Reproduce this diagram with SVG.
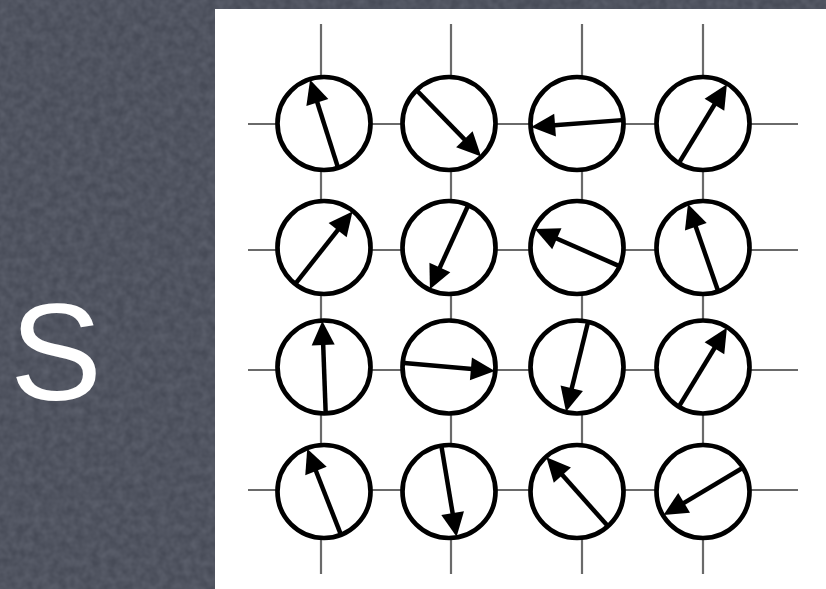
<svg xmlns="http://www.w3.org/2000/svg" width="826" height="589" viewBox="0 0 826 589">
<defs>
<filter id="tex" x="0" y="0" width="100%" height="100%">
<feTurbulence type="fractalNoise" baseFrequency="0.12" numOctaves="2" seed="3" result="n"/>
<feColorMatrix in="n" type="matrix" values="0 0 0 0 0.36  0 0 0 0 0.38  0 0 0 0 0.45  0 0 0 0.3 -0.05"/>
</filter>
<g id="arrow">
<line x1="-45" y1="0" x2="26" y2="0" class="shaft"/>
<polygon points="22,-11.5 46,0 22,11.5" class="head"/>
</g>
</defs>
<style>
.grid line{stroke:#6a6a6a;stroke-width:2.2}
.ring{fill:#fff;stroke:#000;stroke-width:4.7}
.shaft{stroke:#000;stroke-width:4.5}
.head{fill:#000}
.s{font-family:"Liberation Sans",Arial,sans-serif;font-size:138px;fill:#fff}
</style>
<rect width="826" height="589" fill="#474b57"/>
<rect width="826" height="589" filter="url(#tex)"/>
<rect x="215" y="9" width="611" height="580" fill="#fff"/>
<text class="s" x="56" y="400" text-anchor="middle">S</text>
<g id="connectors" class="grid">
<line x1="321" y1="24" x2="321" y2="574"/>
<line x1="451" y1="24" x2="451" y2="574"/>
<line x1="582" y1="24" x2="582" y2="574"/>
<line x1="703" y1="24" x2="703" y2="574"/>
<line x1="248" y1="124" x2="798" y2="124"/>
<line x1="248" y1="250" x2="798" y2="250"/>
<line x1="248" y1="370" x2="798" y2="370"/>
<line x1="248" y1="490" x2="798" y2="490"/>
</g>
<g id="n11" transform="translate(324,123.5)"><circle class="ring" r="46.5"/><use href="#arrow" transform="rotate(-107.6)"/></g>
<g id="n12" transform="translate(449,123.5)"><circle class="ring" r="46.5"/><use href="#arrow" transform="rotate(45.7)"/></g>
<g id="n13" transform="translate(577,123.5)"><circle class="ring" r="46.5"/><use href="#arrow" transform="rotate(175.7)"/></g>
<g id="n14" transform="translate(703,123.5)"><circle class="ring" r="46.5"/><use href="#arrow" transform="rotate(-58.7)"/></g>
<g id="n21" transform="translate(324,247.5)"><circle class="ring" r="46.5"/><use href="#arrow" transform="rotate(-51.7)"/></g>
<g id="n22" transform="translate(449,247.5)"><circle class="ring" r="46.5"/><use href="#arrow" transform="rotate(114.5)"/></g>
<g id="n23" transform="translate(577,247.5)"><circle class="ring" r="46.5"/><use href="#arrow" transform="rotate(-156.3)"/></g>
<g id="n24" transform="translate(703,247.5)"><circle class="ring" r="46.5"/><use href="#arrow" transform="rotate(-109.1)"/></g>
<g id="n31" transform="translate(324,367)"><circle class="ring" r="46.5"/><use href="#arrow" transform="rotate(-92.1)"/></g>
<g id="n32" transform="translate(449,367)"><circle class="ring" r="46.5"/><use href="#arrow" transform="rotate(5)"/></g>
<g id="n33" transform="translate(577,367)"><circle class="ring" r="46.5"/><use href="#arrow" transform="rotate(103.8)"/></g>
<g id="n34" transform="translate(703,367)"><circle class="ring" r="46.5"/><use href="#arrow" transform="rotate(-58.7)"/></g>
<g id="n41" transform="translate(324,491.5)"><circle class="ring" r="46.5"/><use href="#arrow" transform="rotate(-111.4)"/></g>
<g id="n42" transform="translate(449,491.5)"><circle class="ring" r="46.5"/><use href="#arrow" transform="rotate(80.5)"/></g>
<g id="n43" transform="translate(577,491.5)"><circle class="ring" r="46.5"/><use href="#arrow" transform="rotate(-131.7)"/></g>
<g id="n44" transform="translate(703,491.5)"><circle class="ring" r="46.5"/><use href="#arrow" transform="rotate(149.2)"/></g>
</svg>
